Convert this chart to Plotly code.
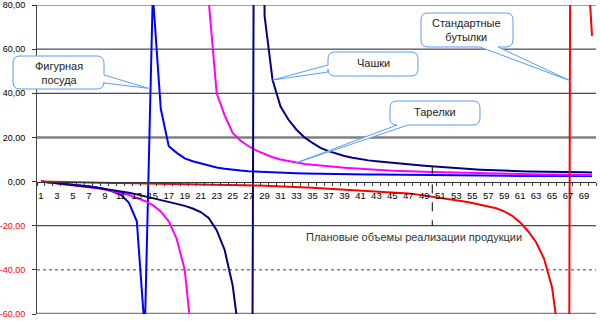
import plotly.graph_objects as go

# ---------------- data ----------------
categories = list(range(1, 71))

x_tick_values = [1, 3, 5, 7, 9, 11, 13, 15, 17, 19, 21, 23, 25, 27, 29, 31, 33, 35,
                 37, 39, 41, 43, 45, 47, 49, 51, 53, 55, 57, 59, 61, 63, 65, 67, 69]
x_tick_labels = [str(v) for v in x_tick_values]

y_tick_values = [-60, -40, -20, 0, 20, 40, 60, 80]
y_tick_labels = ["-60,00", "-40,00", "-20,00", "0,00", "20,00", "40,00", "60,00", "80,00"]

# Фигурная посуда (blue)
figurnaya = [0, -0.3, -0.6, -0.9, -1.3, -1.7, -2.1, -2.7, -3.4, -4.5,
             -6.0, -9.5, -18, -68, 85, 33, 16, 13, 10.5, 9.2,
             8.2, 7.3, 6.4, 5.8, 5.3, 5.0, 4.7, 4.5, 4.3, 4.1,
             4.0, 3.9, 3.8, 3.7, 3.6, 3.5, 3.45, 3.4, 3.35, 3.3,
             3.25, 3.2, 3.15, 3.1, 3.05, 3.0, 2.95, 2.9, 2.87, 2.84,
             2.81, 2.78, 2.75, 2.72, 2.7, 2.68, 2.66, 2.64, 2.62, 2.6,
             2.58, 2.56, 2.55, 2.54, 2.53, 2.52, 2.51, 2.5, 2.5, 2.5]

# Тарелки (magenta)
tarelki = [0, -0.4, -0.8, -1.2, -1.6, -2.0, -2.5, -3.0, -3.6, -4.3,
           -5.1, -6.1, -7.3, -8.8, -10.7, -13.5, -18, -26, -40, -75,
           None, 82, 40, 30, 22, 18.5, 16, 14, 12.4, 11.0,
           10.0, 9.2, 8.6, 8.0, 7.6, 7.2, 6.9, 6.6, 6.3, 6.0,
           5.7, 5.5, 5.3, 5.1, 4.9, 4.7, 4.6, 4.5, 4.4, 4.3,
           4.2, 4.1, 4.0, 3.9, 3.8, 3.7, 3.6, 3.5, 3.45, 3.4,
           3.35, 3.3, 3.25, 3.2, 3.15, 3.1, 3.05, 3.0, 3.0, 3.0]

# Чашки (navy)
chashki = [0, -0.35, -0.7, -1.05, -1.45, -1.85, -2.3, -2.8, -3.3, -3.9,
           -4.5, -5.1, -5.8, -6.6, -7.5, -8.4, -9.2, -10.1, -11.0, -12.2,
           -13.8, -16.5, -22, -31, -47, -75, -600, 500, 75, 46,
           34, 28, 23.5, 20, 17.5, 15.3, 13.8, 12.6, 11.6, 10.8,
           10.1, 9.6, 9.2, 8.8, 8.5, 8.2, 7.8, 7.5, 7.2, 6.9,
           6.6, 6.3, 6.0, 5.8, 5.6, 5.4, 5.2, 5.0, 4.9, 4.8,
           4.7, 4.6, 4.5, 4.45, 4.4, 4.35, 4.3, 4.25, 4.2, 4.15]

# Стандартные бутылки (red)
butylki = [0, -0.1, -0.2, -0.3, -0.35, -0.4, -0.45, -0.5, -0.55, -0.6,
           -0.65, -0.7, -0.75, -0.8, -0.85, -0.9, -0.95, -1.0, -1.05, -1.1,
           -1.15, -1.2, -1.3, -1.4, -1.5, -1.6, -1.7, -1.8, -1.9, -2.0,
           -2.1, -2.25, -2.4, -2.6, -2.8, -3.0, -3.2, -3.4, -3.6, -3.8,
           -4.0, -4.2, -4.4, -4.6, -4.8, -5.0, -5.4, -5.8, -6.3, -6.8,
           -7.3, -7.8, -8.4, -9.0, -9.7, -10.4, -11.2, -12.1, -13.5, -15.5,
           -18.5, -22.5, -27.5, -35, -48, -75, -300, 1200, 126, 66]

plan_category = 50
plan_label = "Плановые объемы реализации продукции"
callout_texts = ["Фигурная<br>посуда", "Чашки", "Тарелки", "Стандартные<br>бутылки"]

# ---------------- figure ----------------
FONT = "Liberation Sans, Arial, sans-serif"
L, R, T, B = 37, 596, 5, 314
W, H = R - L, B - T


def pxx(px):
    return (px - L) / W


def pxy(py):
    return (B - py) / H


fig = go.Figure()
series = [
    (figurnaya, "#0000ff"),
    (tarelki, "#ff00ff"),
    (chashki, "#000080"),
    (butylki, "#ff0000"),
]
for vals, color in series:
    fig.add_trace(go.Scatter(x=categories, y=vals, mode="lines",
                             line=dict(color=color, width=2),
                             connectgaps=False, hoverinfo="skip",
                             showlegend=False))

shapes = []
# horizontal gridlines
for v in y_tick_values:
    if v == 0:
        continue
    if v in (20, -60):
        ln = dict(color="#808080", width=2.5)
    elif v == 80:
        ln = dict(color="#808080", width=1.5)
    elif v == -40:
        ln = dict(color="#3a3a60", width=1, dash="dot")
    else:
        ln = dict(color="#1a1a40", width=1)
    shapes.append(dict(type="line", xref="paper", x0=0, x1=1, yref="y",
                       y0=v, y1=v, line=ln, layer="below"))

# drop line at planned volume
shapes.append(dict(type="line", xref="x", yref="y",
                   x0=plan_category, x1=plan_category,
                   y0=chashki[categories.index(plan_category)], y1=-20,
                   line=dict(color="#000000", width=1, dash="dash"),
                   layer="above"))


def P(x, y):
    return f"{pxx(x):.5f} {pxy(y):.5f}"


def callout_path(x0, y0, x1, y1, r, side, b0, b1, tip):
    s = f"M {P(x0 + r, y0)}"
    s += f" L {P(x1 - r, y0)} Q {P(x1, y0)} {P(x1, y0 + r)}"
    if side == "right":
        s += f" L {P(x1, b0)} L {P(*tip)} L {P(x1, b1)}"
    s += f" L {P(x1, y1 - r)} Q {P(x1, y1)} {P(x1 - r, y1)}"
    if side == "bottom":
        s += f" L {P(b1, y1)} L {P(*tip)} L {P(b0, y1)}"
    s += f" L {P(x0 + r, y1)} Q {P(x0, y1)} {P(x0, y1 - r)}"
    if side == "left":
        s += f" L {P(x0, b1)} L {P(*tip)} L {P(x0, b0)}"
    s += f" L {P(x0, y0 + r)} Q {P(x0, y0)} {P(x0 + r, y0)} Z"
    return s


callouts = [
    # box (x0, y0, x1, y1), side, base, tip, text center
    ((13, 56, 104, 89), "right", (75, 83), (148.3, 88.3), (58.5, 72.5)),
    ((328, 52, 418, 76), "left", (65, 72), (272.7, 80), (373, 63)),
    ((390, 101, 480, 125), "bottom", (397, 408), (296.7, 162.7), (435, 112)),
    ((421, 13, 513, 47), "bottom", (480, 498), (570, 80.7), (466, 30)),
]
annotations = []
for (box, side, base, tip, ctr), text in zip(callouts, callout_texts):
    shapes.append(dict(type="path", xref="paper", yref="paper",
                       path=callout_path(*box, 7, side, base[0], base[1], tip),
                       fillcolor="#ffffff",
                       line=dict(color="#5b9cf6", width=1), layer="above"))
    annotations.append(dict(xref="paper", yref="paper", x=pxx(ctr[0]), y=pxy(ctr[1]),
                            text=text, showarrow=False, xanchor="center",
                            yanchor="middle", align="center",
                            font=dict(family=FONT, size=11, color="#222222")))

annotations.append(dict(xref="paper", yref="paper", x=pxx(413.5), y=pxy(237),
                        text=plan_label, showarrow=False, xanchor="center",
                        yanchor="middle",
                        font=dict(family=FONT, size=11, color="#333333")))

y_ticktext = [(f"<span style='color:#ff0000'>{t}</span>" if v < 0 else t)
              for v, t in zip(y_tick_values, y_tick_labels)]

fig.update_layout(
    width=600, height=321,
    margin=dict(l=L, r=600 - R, t=T, b=321 - B, pad=0, autoexpand=False),
    paper_bgcolor="#ffffff", plot_bgcolor="#ffffff",
    showlegend=False,
    shapes=shapes, annotations=annotations,
    xaxis=dict(range=[0.5, 70.5], tickmode="array", tickvals=x_tick_values,
               ticktext=x_tick_labels, ticks="", showgrid=False, zeroline=False,
               showline=True, linecolor="#333333", linewidth=1,
               anchor="free", position=60 / 140, ticklabelstandoff=5,
               automargin=False, ticklabeloverflow="allow",
               tickfont=dict(family=FONT, size=9.5, color="#000000"),
               minor=dict(tickmode="linear", tick0=0.5, dtick=1, ticks="outside",
                          ticklen=3, tickcolor="#333333", showgrid=False)),
    yaxis=dict(range=[-60, 80], tickmode="array", tickvals=y_tick_values,
               ticktext=y_ticktext, ticks="outside", ticklen=4,
               tickcolor="#333333", showgrid=False, zeroline=False,
               showline=True, linecolor="#444444", linewidth=1,
               ticklabelstandoff=5, automargin=False, ticklabeloverflow="allow",
               tickfont=dict(family=FONT, size=9, color="#000000")),
)

fig.write_html("out.html")
